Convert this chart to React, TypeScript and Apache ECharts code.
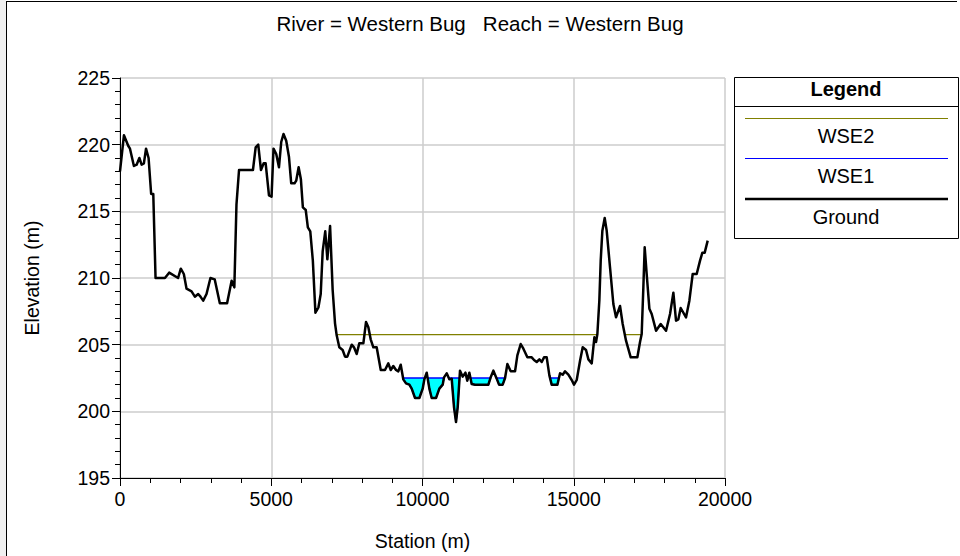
import React, { useEffect, useRef } from "react";
import * as echarts from "echarts";

const titleText = "River = Western Bug   Reach = Western Bug";
const xAxisName = "Station (m)";
const yAxisName = "Elevation (m)";
const legendTitle = "Legend";
const legendNames = ["WSE2", "WSE1", "Ground"];

const groundStation = [
  0, 130, 275, 330, 460, 550, 640, 715, 790, 860, 945, 1030, 1100, 1175, 1485, 1625, 1920, 2010, 2110, 2200,
  2365, 2475, 2585, 2660, 2750, 2860, 2990, 3130, 3300, 3540, 3690, 3780, 3850, 3935, 4395, 4485, 4570, 4660,
  4750, 4815, 4925, 5010, 5075, 5165, 5255, 5330, 5405, 5495, 5585, 5660, 5770, 5825, 5905, 5980, 6045, 6140,
  6210, 6290, 6375, 6460, 6560, 6635, 6700, 6785, 6855, 6945, 7030, 7108, 7163, 7250, 7360, 7440, 7515, 7660,
  7735, 7825, 7910, 8045, 8133, 8210, 8287, 8375, 8485, 8620, 8760, 8870, 8950, 9035, 9125, 9200, 9280, 9365,
  9455, 9565, 9643, 9753, 9896, 10006, 10061, 10139, 10227, 10304, 10447, 10557, 10668, 10712, 10800, 10888,
  10965, 11042, 11108, 11163, 11240, 11330, 11420, 11480, 11549, 11626, 11736, 12177, 12254, 12343, 12453,
  12530, 12651, 12729, 12806, 12916, 13059, 13136, 13246, 13335, 13467, 13610, 13687, 13775, 13864, 13941,
  14018, 14106, 14194, 14271, 14459, 14547, 14635, 14712, 14822, 14932, 15009, 15098, 15208, 15296, 15406,
  15484, 15594, 15682, 15737, 15781, 15846, 15891, 15946, 16023, 16089, 16199, 16309, 16397, 16530, 16618,
  16728, 16883, 17103, 17191, 17246, 17301, 17345, 17411, 17500, 17577, 17720, 17874, 18051, 18183, 18293,
  18381, 18458, 18535, 18712, 18822, 18932, 19064, 19175, 19252, 19329, 19428,
];
const groundElevation = [
  218.0, 220.7, 219.9, 219.7, 218.4, 218.5, 219.0, 218.5, 218.6, 219.7, 219.0, 216.3, 216.3, 210.0, 210.0, 210.4,
  210.0, 210.7, 210.3, 209.2, 209.0, 208.6, 208.8, 208.6, 208.3, 208.8, 210.0, 209.9, 208.1, 208.1, 209.8, 209.3,
  215.5, 218.1, 218.1, 219.8, 220.0, 218.1, 218.6, 218.6, 216.2, 216.1, 219.7, 219.3, 218.3, 220.2, 220.8, 220.3,
  219.1, 217.1, 217.1, 217.3, 218.3, 217.4, 215.3, 215.1, 213.8, 213.5, 211.3, 207.4, 207.8, 208.8, 212.0, 213.5,
  211.4, 213.9, 209.1, 206.6, 205.7, 204.8, 204.6, 204.1, 204.1, 205.0, 204.8, 204.3, 205.1, 205.1, 206.7, 206.3,
  205.4, 204.8, 204.8, 203.1, 203.1, 203.6, 203.1, 203.4, 203.1, 203.0, 203.5, 202.4, 202.1, 202.0, 201.7, 201.0,
  201.0, 201.7, 202.4, 202.9, 201.7, 201.0, 201.0, 201.7, 202.0, 202.55, 202.85, 202.4, 202.45, 200.3, 199.2,
  200.3, 203.05, 202.6, 202.9, 202.3, 202.9, 202.05, 202.0, 202.0, 202.55, 203.05, 202.45, 202.0, 202.0, 202.5,
  203.55, 203.0, 203.0, 204.2, 205.05, 204.7, 204.05, 204.05, 203.85, 203.7, 203.9, 203.7, 204.05, 204.05, 202.7,
  202.0, 202.0, 202.85, 202.75, 203.0, 202.75, 202.35, 202.0, 202.35, 203.8, 204.8, 204.6, 203.9, 203.6, 205.55,
  205.2, 205.8, 208.3, 211.3, 213.55, 214.5, 213.55, 210.8, 208.05, 207.05, 207.9, 206.55, 205.3, 204.05, 204.05,
  205.2, 205.8, 209.3, 212.3, 210.3, 207.7, 207.3, 206.05, 206.55, 206.05, 207.3, 208.9, 206.8, 206.9, 207.75,
  207.05, 208.3, 210.3, 210.3, 211.3, 211.9, 211.9, 212.8,
];

const wse2Station = [7160, 15790, null, 16690, 17230];
const wse2Level = 205.75;
const wse1Level = 202.5;
const wse1Extent = [9250, 15200];

const xTicks = [0, 5000, 10000, 15000, 20000];
const yTicks = [195, 200, 205, 210, 215, 220, 225];

const FONT = "'Liberation Sans', Arial, sans-serif";

function waterPockets(): number[][][] {
  const pts = groundStation
    .map((x, i) => [x, groundElevation[i]])
    .filter((p) => p[0] >= wse1Extent[0] && p[0] <= wse1Extent[1]);
  const pockets: number[][][] = [];
  let cur: number[][] | null = null;
  let prevBelow = false;
  pts.forEach((p, i) => {
    const below = p[1] < wse1Level;
    if (i > 0 && below !== prevBelow) {
      const q = pts[i - 1];
      const t = (wse1Level - q[1]) / (p[1] - q[1]);
      const xc = q[0] + t * (p[0] - q[0]);
      if (below) {
        cur = [[xc, wse1Level]];
      } else if (cur) {
        cur.push([xc, wse1Level]);
        pockets.push(cur);
        cur = null;
      }
    } else if (i === 0 && below) {
      cur = [[p[0], wse1Level]];
    }
    if (below && cur) cur.push(p);
    prevBelow = below;
  });
  return pockets;
}

export default function App() {
  const ref = useRef<HTMLDivElement>(null);
  useEffect(() => {
    if (!ref.current) return;
    const chart = echarts.init(ref.current, null, { renderer: "svg" });
    const pockets = waterPockets();
    const ground = groundStation.map((x, i) => [x, groundElevation[i]]);
    const wse2 = wse2Station.map((x) => (x === null ? ["-", "-"] : [x, wse2Level]));

    const legendX0 = 734;
    const legendX1 = 958;
    const legendCx = (legendX0 + legendX1) / 2;
    const lineColors = ["#808000", "#0000ff", "#000000"];
    const lineWidths = [1, 1, 2.5];
    const lineYs = [118.5, 158.5, 199];
    const textYs = [136, 176, 217];

    const legendEls: any[] = [
      {
        type: "rect",
        shape: { x: legendX0 + 0.5, y: 77.5, width: legendX1 - legendX0, height: 161 },
        style: { fill: "#fff", stroke: "#000", lineWidth: 1 },
        z: 100,
      },
      {
        type: "line",
        shape: { x1: legendX0, y1: 106.5, x2: legendX1 + 1, y2: 106.5 },
        style: { stroke: "#000", lineWidth: 1 },
        z: 101,
      },
      {
        type: "text",
        x: legendCx,
        y: 89,
        style: {
          text: legendTitle,
          font: `bold 20px ${FONT}`,
          fill: "#000",
          align: "center",
          verticalAlign: "middle",
        },
        z: 101,
      },
    ];
    legendNames.forEach((n, i) => {
      legendEls.push({
        type: "line",
        shape: { x1: 745, y1: lineYs[i], x2: 948, y2: lineYs[i] },
        style: { stroke: lineColors[i], lineWidth: lineWidths[i] },
        z: 101,
      });
      legendEls.push({
        type: "text",
        x: legendCx,
        y: textYs[i],
        style: {
          text: n,
          font: `20px ${FONT}`,
          fill: "#000",
          align: "center",
          verticalAlign: "middle",
        },
        z: 101,
      });
    });

    chart.setOption({
      animation: false,
      backgroundColor: "#ffffff",
      title: {
        text: titleText,
        left: "center",
        top: 8,
        textStyle: { fontFamily: FONT, fontSize: 20.5, fontWeight: "normal", color: "#000" },
      },
      grid: { left: 120, top: 78, width: 605, height: 400, containLabel: false },
      xAxis: {
        type: "value",
        min: 0,
        max: 20000,
        interval: 5000,
        name: xAxisName,
        nameLocation: "middle",
        nameGap: 53,
        nameTextStyle: { fontFamily: FONT, fontSize: 19.5, color: "#000" },
        axisLine: { show: true, onZero: false, lineStyle: { color: "#000", width: 1 } },
        axisTick: { show: true, length: 8, lineStyle: { color: "#000" } },
        minorTick: { show: true, splitNumber: 5, length: 5, lineStyle: { color: "#000" } },
        axisLabel: {
          fontFamily: FONT,
          fontSize: 19.5,
          color: "#000",
          margin: 11,
          customValues: xTicks,
          formatter: (v: number) => String(v),
        },
        splitLine: { show: true, lineStyle: { color: "#cccccc", width: 1.5 } },
      },
      yAxis: {
        type: "value",
        min: 195,
        max: 225,
        interval: 5,
        name: yAxisName,
        nameLocation: "middle",
        nameGap: 78,
        nameRotate: 90,
        nameTextStyle: { fontFamily: FONT, fontSize: 19.5, color: "#000" },
        axisLine: { show: true, onZero: false, lineStyle: { color: "#000", width: 1 } },
        axisTick: { show: true, length: 8, lineStyle: { color: "#000" } },
        minorTick: { show: true, splitNumber: 5, length: 5, lineStyle: { color: "#000" } },
        axisLabel: {
          fontFamily: FONT,
          fontSize: 19.5,
          color: "#000",
          margin: 10,
          customValues: yTicks,
          formatter: (v: number) => String(v),
        },
        splitLine: { show: true, lineStyle: { color: "#cccccc", width: 1.5 } },
      },
      series: [
        {
          type: "custom",
          name: "WSE1",
          coordinateSystem: "cartesian2d",
          data: [[0, wse1Level]],
          z: 2,
          silent: true,
          renderItem: (params: any, api: any) => {
            const children = pockets.map((pk) => ({
              type: "polygon",
              shape: { points: pk.map((p) => api.coord(p)) },
              style: { fill: "#00ffff", stroke: "#0000ff", lineWidth: 1.5 },
            }));
            return { type: "group", children };
          },
        },
        {
          type: "line",
          name: "WSE2",
          data: wse2,
          showSymbol: false,
          connectNulls: false,
          lineStyle: { color: "#808000", width: 1.2 },
          z: 3,
        },
        {
          type: "line",
          name: "Ground",
          data: ground,
          showSymbol: false,
          lineStyle: { color: "#000", width: 2.5, join: "round" },
          z: 4,
        },
      ],
      graphic: [
        {
          type: "rect",
          shape: { x: 0, y: 0, width: 6, height: 556 },
          style: { fill: "#f0f0f0" },
          z: 50,
        },
        {
          type: "line",
          shape: { x1: 6.5, y1: 1.5, x2: 957, y2: 1.5 },
          style: { stroke: "#000", lineWidth: 1 },
          z: 50,
        },
        {
          type: "line",
          shape: { x1: 6.5, y1: 1, x2: 6.5, y2: 556 },
          style: { stroke: "#000", lineWidth: 1 },
          z: 50,
        },
        ...legendEls,
      ],
    });
    return () => chart.dispose();
  }, []);
  return (
    <div
      ref={ref}
      style={{ position: "absolute", left: 0, top: 0, width: 960, height: 556 }}
    />
  );
}
